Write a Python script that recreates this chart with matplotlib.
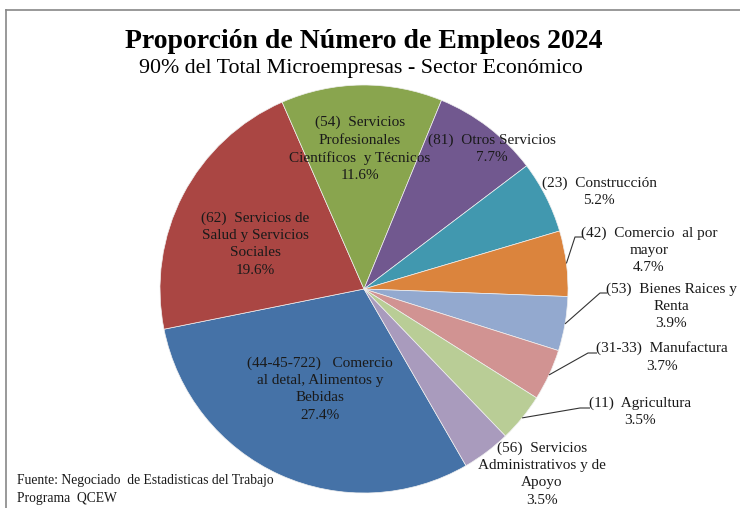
import matplotlib
matplotlib.use("Agg")
import matplotlib.pyplot as plt
import numpy as np

plt.rcParams['font.family'] = ['Liberation Serif', 'DejaVu Serif']

# ---- data ----
sectors = [
    "(44-45-722)   Comercio\nal detal, Alimentos y\nBebidas",
    "(62)  Servicios de\nSalud y Servicios\nSociales",
    "(54)  Servicios\nProfesionales\nCientíficos  y Técnicos",
    "(81)  Otros Servicios",
    "(23)  Construcción",
    "(42)  Comercio  al por\nmayor",
    "(53)  Bienes Raices y\nRenta",
    "(31-33)  Manufactura",
    "(11)  Agricultura",
    "(56)  Servicios\nAdministrativos y de\nApoyo",
]
shares = [27.4, 19.6, 11.6, 7.7, 5.2, 4.7, 3.9, 3.7, 3.5, 3.5]
colors = ["#4572A7", "#AA4643", "#89A54E", "#71588F", "#4198AF",
          "#DB843D", "#93A9CF", "#D19392", "#B9CD96", "#A99BBD"]

title = "Proporción de Número de Empleos 2024"
subtitle = "90% del Total Microempresas - Sector Económico"
source = "Fuente: Negociado  de Estadisticas del Trabajo\nPrograma  QCEW"

W, H = 740, 508
fig = plt.figure(figsize=(W / 100, H / 100), dpi=100)
ax = fig.add_axes([0, 0, 1, 1])

def Y(y):
    return H - y

cx, cy, R = 364, 289, 204
wedges, _ = ax.pie(shares, colors=colors, startangle=-60, counterclock=False,
                   center=(cx, Y(cy)), radius=R, frame=True,
                   wedgeprops=dict(linewidth=0.5, edgecolor='#f0f0f0'))
ax.set_xlim(0, W)
ax.set_ylim(0, H)
ax.axis('off')

# label positions (text block centres, pixel coords) and leader knees
label_pos = [(320, 389), (255, 244), (360, 149), (492, 149), (599, 192),
             (649, 250), (671, 306), (662, 357), (640, 412), (542, 474)]
leader = {5: (583, 575, 237), 6: (607, 600, 293), 7: (597, 588, 353), 8: (590, 580, 408)}

txtc = "#1a1a1a"
for i, (name, val) in enumerate(zip(sectors, shares)):
    x, y = label_pos[i]
    ax.text(x, Y(y), f"{name}\n{val:.1f}%", ha='center', va='center',
            multialignment='center', fontsize=11, color=txtc, linespacing=1.42)
    if i in leader:
        w = wedges[i]
        mid = np.deg2rad((w.theta1 + w.theta2) / 2)
        ex = cx + R * np.cos(mid)
        ey = Y(cy) + R * np.sin(mid)
        x0, xk, yk = leader[i]
        ax.plot([x0, xk, ex], [Y(yk), Y(yk), ey], color="#333333", lw=0.8,
                solid_capstyle='butt')

ax.text(364, Y(41), title, ha='center', va='center', fontsize=20,
        fontweight='bold', color='black')
ax.text(361, Y(69), subtitle, ha='center', va='center', fontsize=15.8,
        color='black')
ax.text(17, Y(489.5), source, ha='left', va='center', fontsize=9.8,
        color=txtc, linespacing=1.45)

# border
ax.plot([6, W], [Y(10), Y(10)], color="#888888", lw=1.2)
ax.plot([6, 6], [Y(10), 0], color="#888888", lw=1.2)

fig.savefig("out.png", dpi=100)
